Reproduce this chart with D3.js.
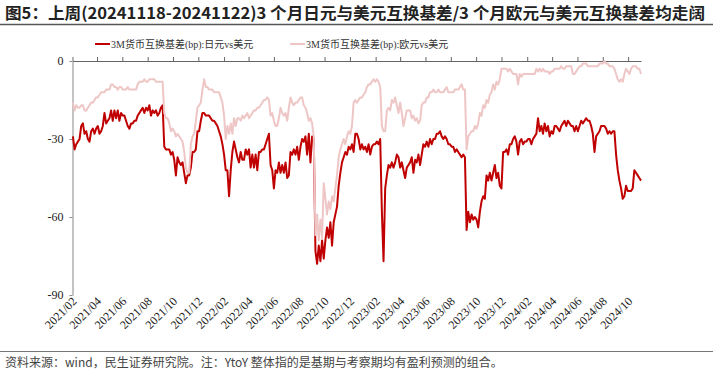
<!DOCTYPE html>
<html>
<head>
<meta charset="utf-8">
<title>3个月日元/欧元与美元互换基差</title>
<script src="https://cdn.jsdelivr.net/npm/d3@7"></script>
<style>
  body { margin: 0; background: #fff; }
</style>
</head>
<body>
<svg id="chart" width="713" height="371"></svg>
<script>
// 数据：每4天一个点，从 2021-02-02 开始
const startDate = new Date(2021, 1, 2);
const stepDays = 4;

const jpyUsd = [
  -29,-34,-32,-31,-30,-25,-24,-28,-27,-30,-31,-27,-26,-28,-26,-25,-28,-27,-25,-20,-24,-23,-22,-19,-23,-19,-22,-19,-23,-20,
  -21,-21,-23,-25,-26,-24,-24,-23,-23,-21,-20,-19,-18,-20,-18,-19,-17,-21,-19,-20,-19,-21,-20,-18,-17,-33,-34,-34,
  -34,-36,-35,-38,-44,-37,-39,-40,-39,-43,-47,-44,-44,-41,-35,-35,-34,-27,-27,-23,-20,-20,-21,-21,-21,-22,-23,-23,-24,-25,
  -27,-29,-32,-36,-42,-42,-52,-42,-35,-31,-34,-37,-39,-35,-38,-38,-34,-36,-34,-41,-36,-41,-36,-42,-35,-35,-34,
  -34,-32,-30,-28,-40,-42,-49,-42,-43,-39,-43,-40,-43,-39,-45,-44,-35,-36,-34,-36,-33,-38,-33,-30,-31,-29,-36,-28,-39,-29,
  -30,-73,-78,-71,-77,-69,-76,-69,-64,-68,-62,-71,-62,-59,-56,-48,-43,-39,-37,-35,-36,-33,-34,-32,-35,-28,-28,
  -30,-34,-32,-34,-33,-35,-32,-36,-33,-32,-32,-31,-32,-30,-58,-77,-49,-44,-40,-41,-39,-41,-39,-36,-37,-41,-39,-42,-45,-41,
  -40,-39,-37,-43,-38,-39,-36,-40,-36,-32,-33,-31,-33,-30,-32,-30,-30,-28,-28,-27,-29,-30,-29,-30,-32,-32,-33,
  -33,-35,-34,-35,-36,-37,-36,-37,-65,-58,-62,-59,-61,-60,-61,-64,-58,-54,-52,-53,-44,-46,-43,-46,-43,-40,-45,-43,-48,-49,
  -35,-35,-34,-36,-32,-32,-30,-29,-31,-36,-31,-30,-32,-31,-31,-30,-30,-32,-30,-29,-28,-22,-27,-25,-28,-24,-27,
  -25,-29,-27,-28,-25,-25,-26,-27,-25,-24,-23,-25,-23,-24,-25,-25,-27,-25,-27,-25,-23,-24,-23,-22,-23,-23,-25,-28,-35,-29,
  -28,-27,-25,-25,-25,-26,-28,-27,-28,-27,-27,-36,-42,-46,-49,-53,-52,-48,-50,-50,-50,-49,-42,-43,-44,-45,-46
];

const eurUsd = [
  -16,-19,-17,-18,-18,-17,-17,-19,-19,-18,-17,-16,-16,-15,-14,-14,-13,-12,-12,-12,-11,-11,-11,-9,-9,-10,-10,-11,-10,-10,
  -11,-11,-11,-10,-11,-11,-11,-11,-11,-9,-8,-8,-8,-7,-8,-8,-7,-7,-7,-7,-8,-8,-8,-8,-8,-20,-22,-22,
  -24,-27,-26,-27,-29,-28,-29,-30,-31,-35,-41,-43,-43,-32,-29,-28,-23,-18,-17,-16,-11,-7,-10,-10,-11,-11,-11,-12,-12,-12,
  -12,-14,-16,-21,-30,-25,-28,-24,-28,-22,-25,-22,-22,-23,-21,-22,-21,-20,-22,-21,-20,-19,-19,-18,-18,-17,-16,
  -15,-15,-14,-15,-21,-20,-23,-25,-25,-22,-18,-20,-21,-20,-23,-18,-14,-16,-17,-16,-16,-15,-14,-14,-17,-18,-20,-23,-22,-24,
  -29,-67,-59,-69,-61,-68,-47,-53,-59,-54,-57,-52,-54,-49,-44,-37,-34,-32,-30,-32,-29,-27,-28,-25,-16,-15,-16,
  -15,-14,-14,-13,-12,-10,-9,-9,-8,-7,-8,-7,-8,-10,-25,-27,-27,-19,-18,-19,-15,-16,-14,-17,-20,-16,-20,-25,-22,-19,
  -19,-19,-22,-21,-23,-22,-24,-23,-17,-16,-16,-14,-14,-12,-12,-11,-12,-12,-11,-12,-12,-12,-11,-10,-12,-12,-12,
  -12,-11,-11,-11,-10,-9,-11,-11,-34,-29,-28,-27,-27,-25,-26,-24,-20,-21,-17,-18,-15,-16,-13,-12,-9,-11,-8,-9,-7,-3,
  -3,-3,-3,-4,-3,-4,-5,-5,-5,-9,-5,-6,-5,-5,-5,-5,-5,-5,-5,-5,-3,-4,-3,-4,-3,-4,-4,
  -4,-5,-4,-4,-3,-3,-3,-3,-2,-3,-3,-2,-2,-2,-2,-5,-5,-4,-3,-2,-2,-1,-1,-1,-2,-2,-2,-2,-2,-2,
  -2,-1,-1,-1,0,-1,-1,-2,-2,-2,-3,-5,-7,-8,-7,-8,-5,-3,-4,-5,-3,-2,-2,-2,-3,-3,-5
];

const yTicks = [0, -30, -60, -90];
const seriesNames = ["3M货币互换基差(bp):日元vs美元", "3M货币互换基差(bp):欧元vs美元"];
const colors = ["#c00000", "#efc6c6"];
const titleText = "图5：上周(20241118-20241122)3 个月日元与美元互换基差/3 个月欧元与美元互换基差均走阔";
const noteText = "资料来源：wind，民生证券研究院。注：YtoY 整体指的是基期与考察期均有盈利预测的组合。";

const dates = jpyUsd.map((v, i) => d3.timeDay.offset(startDate, i * stepDays));
const xTicks = d3.timeMonth.range(new Date(2021, 1, 1), new Date(2024, 10, 1), 2);

const svg = d3.select("#chart");
const serif = "'Liberation Serif', 'Times New Roman', 'Noto Sans CJK SC', serif";
const sans = "'Noto Sans CJK SC', 'Noto Sans', sans-serif";

const x = d3.scaleTime()
  .domain([new Date(2021, 1, 1), new Date(2024, 10, 1)])
  .range([72.5, 641]);
const y = d3.scaleLinear().domain([-90, 0]).range([295, 61]);

// 标题
svg.append("text")
  .attr("x", 5).attr("y", 19)
  .attr("font-family", sans).attr("font-size", 16).attr("font-weight", "bold")
  .attr("fill", "#222")
  .attr("textLength", 700).attr("lengthAdjust", "spacingAndGlyphs")
  .text(titleText);
svg.append("line")
  .attr("x1", 0).attr("x2", 713).attr("y1", 24.5).attr("y2", 24.5)
  .attr("stroke", "#555").attr("stroke-width", 1.6);

// 图例
const legendX = [95, 290];
seriesNames.forEach((name, i) => {
  svg.append("line")
    .attr("x1", legendX[i]).attr("x2", legendX[i] + 15)
    .attr("y1", 44).attr("y2", 44)
    .attr("stroke", colors[i]).attr("stroke-width", 2);
  svg.append("text")
    .attr("x", legendX[i] + 16).attr("y", 48)
    .attr("font-family", serif).attr("font-size", 10).attr("fill", "#333")
    .text(name);
});

// y 轴
svg.append("g")
  .attr("transform", "translate(72.5,0)")
  .call(d3.axisLeft(y).tickValues(yTicks).tickSize(3).tickPadding(6).tickSizeOuter(0)
    .tickFormat(d => String(d)))
  .call(g => g.selectAll("path,line").attr("stroke", "#888"))
  .call(g => g.selectAll("text").attr("font-family", serif).attr("font-size", 12).attr("fill", "#222"));

// x 轴（位于 0 处）
svg.append("g")
  .attr("transform", `translate(0,${y(0)})`)
  .call(d3.axisTop(x).tickValues(xTicks).tickSize(4).tickSizeOuter(0).tickFormat(""))
  .call(g => g.selectAll("path,line").attr("stroke", "#666"));

// x 轴标签
svg.append("g")
  .selectAll("text")
  .data(xTicks)
  .join("text")
  .attr("transform", d => `translate(${x(d) + 5},302) rotate(-45)`)
  .attr("text-anchor", "end")
  .attr("font-family", serif).attr("font-size", 12).attr("fill", "#222")
  .text(d3.timeFormat("%Y/%m"));

// 折线
const line = d3.line()
  .x((d, i) => x(dates[i]))
  .y(d => y(d));

[jpyUsd, eurUsd].forEach((s, i) => {
  svg.append("path")
    .datum(s)
    .attr("fill", "none")
    .attr("stroke", colors[i])
    .attr("stroke-width", 2)
    .attr("stroke-linejoin", "round")
    .attr("d", line);
});

// 底部说明
svg.append("line")
  .attr("x1", 0).attr("x2", 713).attr("y1", 351.5).attr("y2", 351.5)
  .attr("stroke", "#777").attr("stroke-width", 1.2);
svg.append("text")
  .attr("x", 5).attr("y", 367)
  .attr("font-family", sans).attr("font-size", 12).attr("fill", "#444")
  .text(noteText);
</script>
</body>
</html>
